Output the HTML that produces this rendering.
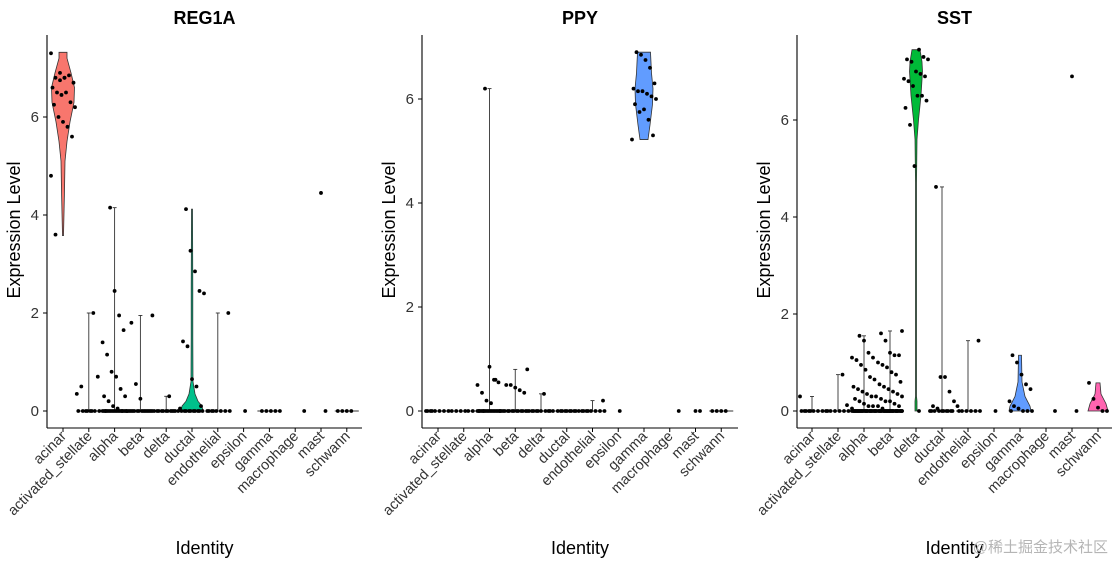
<!DOCTYPE html>
<html><head><meta charset="utf-8"><style>
body{margin:0;background:#fff}
svg text{font-family:"Liberation Sans","Noto Sans CJK SC",sans-serif}
</style></head><body>
<svg id="chart" width="1114" height="562" viewBox="0 0 1114 562"></svg>
<script>
const categories=["acinar","activated_stellate","alpha","beta","delta","ductal","endothelial","epsilon","gamma","macrophage","mast","schwann"];
const palette=["#F8766D","#DE8C00","#B79F00","#7CAE00","#00BA38","#00C08B","#00BFC4","#00B4F0","#619CFF","#C77CFF","#F564E3","#FF64B0"];
const yTicks=[0,2,4,6];
function z(n){return Array(n).fill(0);}
// REG1A values per cluster
const reg1aValues=[
 [7.3,6.8,6.75,6.8,6.85,6.7,6.6,6.5,6.45,6.5,6.3,6.2,6.25,6.0,5.9,5.8,5.6,4.8,3.6,6.9,6.8],
 [2,0.7,0.35,0.5].concat(z(8)),
 [4.15,2.45,1.95,1.65,1.4,1.15,0.8,0.7,0.45,0.3,0.3,0.2,0.1,0.05].concat(z(20)),
 [1.95,1.8,0.55,0.25].concat(z(15)),
 [0.3].concat(z(12)),
 [4.12,3.27,2.85,2.45,2.4,1.42,1.32,0.65,0.5,0.1,0.05].concat(z(10)),
 [2.0].concat(z(8)),
 z(1),z(5),z(1),[4.45,0],z(4)];
const reg1aViolins={0:[[3.58,0.5],[4.5,1.5],[5.1,2],[5.5,4],[5.9,7],[6.3,11],[6.6,11.5],[6.9,8],[7.2,4],[7.32,4]],
 5:[[0,11],[0.1,10],[0.2,6],[0.35,3],[0.6,1],[1.5,0.8],[2.5,0.8],[4.12,0.5]]};
// PPY
const ppyValues=[
 z(8),z(6),
 [6.2,0.85,0.6,0.55,0.5,0.35,0.2,0.15,0.6].concat(z(20)),
 [0.8,0.5,0.5,0.45,0.4,0.35].concat(z(12)),
 [0.33].concat(z(10)),z(10),[0.2].concat(z(8)),z(1),
 [6.9,6.85,6.75,6.6,6.3,6.2,6.15,6.15,6.1,6.05,6.0,5.9,5.75,5.8,5.6,5.3,5.22],
 z(1),z(2),z(4)];
const ppyViolins={8:[[5.22,4],[5.5,6],[5.9,8.5],[6.2,9],[6.5,7.5],[6.9,6.5]]};
// SST
const sstValues=[
 [0.3].concat(z(8)),[0.75,0.12].concat(z(7)),
 [1.55,1.45,1.2,1.1,1.1,1.05,0.95,0.85,0.7,0.65,0.5,0.45,0.4,0.35,0.3,0.3,0.25,0.2,0.15,0.1,0.1,0.05].concat(z(30)),
 [1.65,1.6,1.45,1.2,1.15,1.15,1.0,0.95,0.9,0.8,0.75,0.6,0.55,0.5,0.45,0.4,0.35,0.3,0.25,0.2,0.2,0.15,0.1,0.1,0.05].concat(z(30)),
 [7.45,7.3,7.25,7.25,7.2,7.0,6.95,6.9,6.85,6.8,6.7,6.5,6.5,6.4,6.25,5.9,5.05,0],
 [4.62,0.7,0.7,0.4,0.2,0.1,0.05].concat(z(10)),
 [1.45,0.1].concat(z(6)),z(1),
 [1.15,1.0,0.75,0.55,0.45,0.2,0.1,0.05].concat(z(4)),
 z(1),[6.9,0],[0.58,0.25,0.07,0,0]];
const sstViolins={4:[[0,1],[0.2,1],[0.3,0.5],[4.7,0.5],[5.6,1],[6.0,2.5],[6.5,5],[7.0,6.5],[7.2,6],[7.45,4]],
 8:[[0,11],[0.1,10],[0.3,5],[0.6,2],[1.15,1.5]],
 11:[[0,10],[0.15,8],[0.35,3],[0.58,2]]};

const panels=[
 {title:"REG1A",values:reg1aValues,violins:reg1aViolins,x0:47,x1:362,cx0:63,step:25.8,yUnit:49},
 {title:"PPY",values:ppyValues,violins:ppyViolins,x0:422,x1:738,cx0:438,step:25.75,yUnit:52},
 {title:"SST",values:sstValues,violins:sstViolins,x0:797,x1:1112,cx0:812,step:26,yUnit:48.5}];
const svg=document.getElementById('chart');
const NS="http://www.w3.org/2000/svg";
function mk(tag,attrs,parent,text){const e=document.createElementNS(NS,tag);for(const k in attrs)e.setAttribute(k,attrs[k]);if(text!==undefined)e.textContent=text;parent.appendChild(e);return e;}
const Y0=411;
panels.forEach((p,pi)=>{
 const g=mk('g',{},svg);
 
 
 const yS=v=>Y0-v*p.yUnit;
 const xS=i=>p.cx0+i*p.step;
 const t=mk('text',{x:(p.x0+p.x1)/2,y:24,'text-anchor':'middle','font-size':18,'font-weight':'bold'},g,p.title);
 
 
 const ya=mk('line',{x1:p.x0,x2:p.x0,y1:35,y2:428,stroke:'#000','stroke-width':1.1},g);
 
 
 const xa=mk('line',{x1:p.x0,x2:p.x1,y1:428,y2:428,stroke:'#000','stroke-width':1.1},g);
 
 
 yTicks.forEach(v=>{
  mk('line',{x1:p.x0-4,x2:p.x0,y1:yS(v),y2:yS(v),stroke:'#000'},g);
  const tl=mk('text',{x:p.x0-8,y:yS(v)+5,'text-anchor':'end','font-size':15,fill:'#333'},g,v);
  
  
 });
 const yt=mk('text',{transform:`translate(${p.x0-27},230) rotate(-90)`,'text-anchor':'middle','font-size':18},g,'Expression Level');
 
 
 const xt=mk('text',{x:(p.x0+p.x1)/2,y:554,'text-anchor':'middle','font-size':18},g,'Identity');
 
 
 categories.forEach((c,i)=>{
  const x=xS(i);
  mk('line',{x1:x,x2:x,y1:428,y2:432,stroke:'#000'},g);
  const cl=mk('text',{transform:`translate(${x+4},437) rotate(-45)`,'text-anchor':'end','font-size':14.5,fill:'#333'},g,c);
  
  
  const vals=p.values[i];
  const mx=Math.max(...vals);
  const prof=p.violins[i];
  if(prof){
   const right=prof.map(([v,w])=>`${x+w},${yS(v)}`);
   const left=prof.slice().reverse().map(([v,w])=>`${x-w},${yS(v)}`);
   const vp=mk('polygon',{points:right.concat(left).join(' '),fill:palette[i],stroke:'#333','stroke-width':0.8},g);
   
   
  } else if(vals.length>2){
   mk('line',{x1:x-12,x2:x+12,y1:Y0,y2:Y0,stroke:'#333','stroke-width':1},g);
   if(mx>0){
    const vl=mk('line',{x1:x,x2:x,y1:Y0,y2:yS(mx),stroke:'#333','stroke-width':0.9},g);
    
    
    mk('line',{x1:x-2,x2:x+2,y1:yS(mx),y2:yS(mx),stroke:'#333','stroke-width':0.9},g);
   }
  }
  vals.forEach((v,k)=>{
   const j=(((k*37+i*11)%17)/16-0.5)*2*12;
   const d=mk('circle',{cx:x+j,cy:yS(v),r:1.9,fill:'#000'},g);
   
   
  });
 });
});
const wm=mk('text',{x:1108,y:552,'text-anchor':'end','font-size':15,fill:'#b5b5b5'},svg,'@稀土掘金技术社区');


</script>
</body></html>
